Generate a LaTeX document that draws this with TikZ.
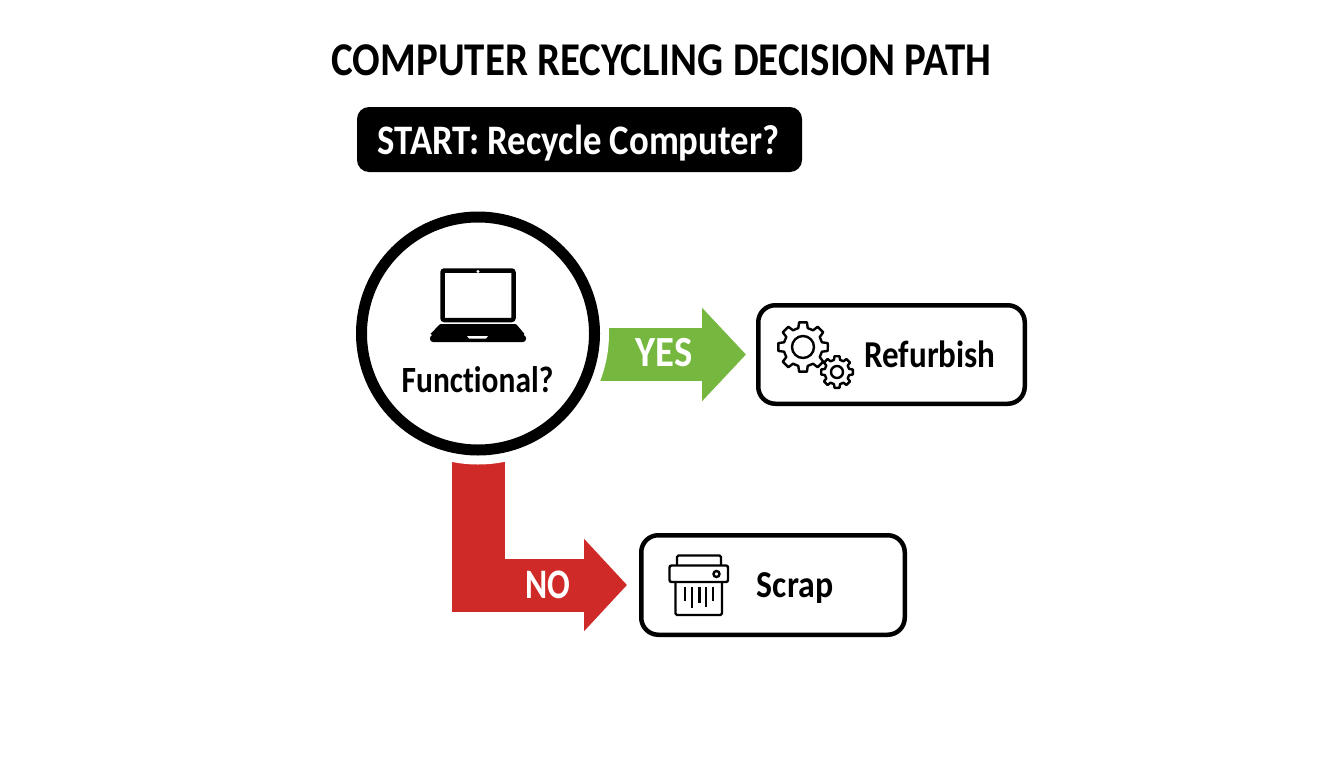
\documentclass[tikz,border=0pt]{standalone}
\usepackage{fontspec}
\setmainfont[RawFeature={-liga}]{Carlito}
\usetikzlibrary{arrows.meta,backgrounds}
\definecolor{arrowgreen}{HTML}{76B83F}
\definecolor{arrowred}{HTML}{CF2A27}
\newcommand{\gearshape}[5]{% x,y,outer,root,hole
  \begin{scope}[shift={(#1,#2)}]
  \filldraw[icon,fill=white,line join=round] (0:#3)
    \foreach \a in {0,45,...,315}{
      -- (\a-9:#3) -- (\a+9:#3) -- (\a+14:#4) -- (\a+31:#4) -- (\a+36:#3)
    } -- cycle;
  \draw[icon] (0,0) circle (#5);
  \end{scope}}
\tikzset{
  x=1pt,y=-1pt,
  lbl/.style={font=\bfseries,text=black,inner sep=0pt,anchor=center},
  outcome/.style={draw=black,line width=4.5pt,rounded corners=17pt,fill=white,inner sep=0pt},
  icon/.style={draw=black,line width=2.4pt},
  green flow/.style={draw=arrowgreen,line width=53pt,-{Triangle[length=44pt,width=91pt]}},
  red flow/.style={draw=arrowred,line width=53pt,-{Triangle[length=43pt,width=90pt]}},
}
\begin{document}
\begin{tikzpicture}
\useasboundingbox (0,0) rectangle (1344,768);
\node[lbl,font=\bfseries\fontsize{47}{47}\selectfont,xscale=0.87] (title) at (661.5,60) {COMPUTER RECYCLING DECISION PATH};
\node[fill=black,rounded corners=12pt,minimum width=445pt,minimum height=65pt,inner sep=0pt] (start) at (579.5,139.5) {};
\node[lbl,text=white,font=\bfseries\fontsize{42}{42}\selectfont,xscale=0.875] (starttext) at (578.5,143) {START: Recycle Computer?};
\node[circle,draw=black,line width=11pt,fill=white,minimum size=233pt,inner sep=0pt] (functional) at (478,333.5) {};
\node[lbl,font=\bfseries\fontsize{37}{37}\selectfont,xscale=0.85] (functext) at (477.5,380) {Functional?};
\node[outcome,minimum width=266.5pt,minimum height=98.5pt] (refurbish) at (891.5,354.5) {};
\node[lbl,font=\bfseries\fontsize{38}{38}\selectfont,xscale=0.87] (reftext) at (930,354.5) {Refurbish};
\node[outcome,minimum width=263.5pt,minimum height=99.5pt] (scrap) at (773,585) {};
\node[lbl,font=\bfseries\fontsize{38}{38}\selectfont,xscale=0.89] (scraptext) at (795,588) {Scrap};
\begin{scope}[on background layer]
  \fill[white] (0,0) rectangle (1344,768);
  \draw[green flow] (functional.center |- refurbish.west) -- ([xshift=-10pt]refurbish.west);
  \draw[red flow,line join=miter] (functional.center) |- ([xshift=-12pt]scrap.west);
  \fill[white] (functional.center) circle (131);
\end{scope}
\node[lbl,text=white,font=\bfseries\fontsize{43}{43}\selectfont,xscale=0.9] (yes) at (664,353) {YES};
\node[lbl,text=white,font=\bfseries\fontsize{42}{42}\selectfont,xscale=0.8] (no) at (548,585) {NO};
% laptop
\draw[black,line width=4.5pt,rounded corners=2pt] (442.5,270.5) rectangle (513.5,320);
\fill[white] (478,271.5) circle (1.6);
\fill[black,rounded corners=1pt] (440,324) -- (516,324) -- (525,334.5) -- (430,334.5) -- cycle;
\fill[black,rounded corners=3pt] (430,335) rectangle (526,342);
\fill[black] (432,333) rectangle (524,338);
\fill[white] (467,336) -- (488,336) -- (486,338.5) -- (469,338.5) -- cycle;
% gears
\gearshape{803}{347}{25}{19.5}{11}
\gearshape{837}{372}{16}{12.5}{6}
% shredder
\draw[icon,rounded corners=1.5pt] (677,565) -- (677,555.5) -- (721,555.5) -- (721,565);
\draw[icon,rounded corners=2pt] (669.5,565.5) rectangle (728,582);
\draw[icon,rounded corners=1.5pt] (675.5,582) -- (675.5,615) -- (722,615) -- (722,582);
\draw[black,line width=2.4pt] (716.5,574) circle (3);
\foreach \x/\e in {685/601,692/608,699.5/603,706/607,713/601}{
  \draw[black,line width=2.4pt] (\x,587) -- (\x,\e);
}
\end{tikzpicture}
\end{document}
